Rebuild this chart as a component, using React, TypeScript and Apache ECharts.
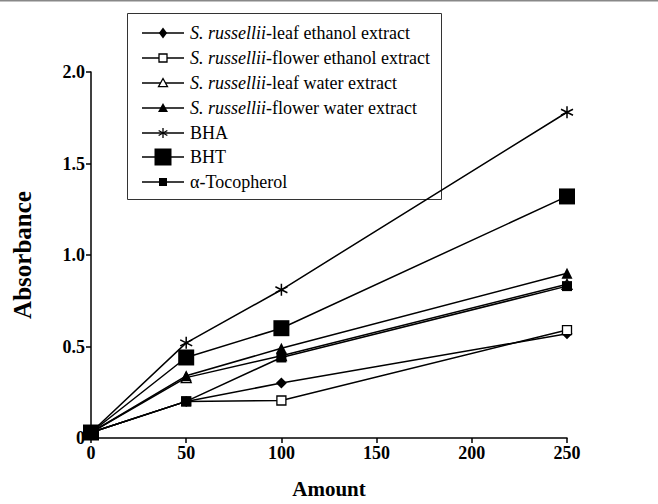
import React, { useEffect, useRef } from "react";
import * as echarts from "echarts";

const amounts = [0, 50, 100, 250];
const leafEthanol = [0.03, 0.2, 0.3, 0.57];
const flowerEthanol = [0.03, 0.2, 0.205, 0.59];
const leafWater = [0.03, 0.33, 0.45, 0.84];
const flowerWater = [0.03, 0.34, 0.49, 0.9];
const bha = [0.03, 0.52, 0.81, 1.78];
const bht = [0.03, 0.44, 0.6, 1.32];
const tocopherol = [0.03, 0.2, 0.44, 0.83];

const xTicks = [0, 50, 100, 150, 200, 250];
const yTicks = [0, 0.5, 1.0, 1.5, 2.0];

const FONT = "'Liberation Serif', 'Times New Roman', serif";
const ASTERISK = "path://M6,0L6,12M0.8,3L11.2,9M0.8,9L11.2,3";

type Kind = "diamond" | "rect" | "triangle" | "asterisk";
type Def = {
  name: string;
  italic: string;
  rest: string;
  values: number[];
  kind: Kind;
  size: number;
  fill: string;
  legendSize: number;
  border?: number;
};

const defs: Def[] = [
  { name: "leafEthanol", italic: "S. russellii", rest: "-leaf ethanol extract", values: leafEthanol, kind: "diamond", size: 11, fill: "#000", legendSize: 11 },
  { name: "flowerEthanol", italic: "S. russellii", rest: "-flower ethanol extract", values: flowerEthanol, kind: "rect", size: 9, fill: "#fff", legendSize: 8, border: 1.3 },
  { name: "leafWater", italic: "S. russellii", rest: "-leaf water extract", values: leafWater, kind: "triangle", size: 10, fill: "#fff", legendSize: 9, border: 1.3 },
  { name: "flowerWater", italic: "S. russellii", rest: "-flower water extract", values: flowerWater, kind: "triangle", size: 11, fill: "#000", legendSize: 10 },
  { name: "BHA", italic: "", rest: "BHA", values: bha, kind: "asterisk", size: 12, fill: "#000", legendSize: 10, border: 1.5 },
  { name: "BHT", italic: "", rest: "BHT", values: bht, kind: "rect", size: 16, fill: "#000", legendSize: 17 },
  { name: "Toc", italic: "", rest: "α-Tocopherol", values: tocopherol, kind: "rect", size: 10, fill: "#000", legendSize: 8 },
];

const legendCenters = [33, 58, 83, 108, 133, 157, 182];

function symbolName(k: Kind) {
  return k === "asterisk" ? ASTERISK : k;
}

function legendIcon(d: Def, cx: number, cy: number): any[] {
  const s = d.legendSize;
  const h = s / 2;
  const stroke = "#000";
  const lw = d.border ?? 0;
  const style = { fill: d.fill, stroke: lw ? stroke : undefined, lineWidth: lw };
  if (d.kind === "rect") {
    return [{ type: "rect", shape: { x: cx - h, y: cy - h, width: s, height: s }, style }];
  }
  if (d.kind === "diamond") {
    return [{ type: "polygon", shape: { points: [[cx, cy - h], [cx + h * 0.75, cy], [cx, cy + h], [cx - h * 0.75, cy]] }, style }];
  }
  if (d.kind === "triangle") {
    return [{ type: "polygon", shape: { points: [[cx, cy - h], [cx + h, cy + h * 0.8], [cx - h, cy + h * 0.8]] }, style }];
  }
  const a = h * 0.87;
  const b = h * 0.5;
  const ls = { stroke, lineWidth: 1.3 };
  return [
    { type: "line", shape: { x1: cx, y1: cy - h, x2: cx, y2: cy + h }, style: ls },
    { type: "line", shape: { x1: cx - a, y1: cy - b, x2: cx + a, y2: cy + b }, style: ls },
    { type: "line", shape: { x1: cx - a, y1: cy + b, x2: cx + a, y2: cy - b }, style: ls },
  ];
}

function measure(text: string, font: string) {
  const c = document.createElement("canvas").getContext("2d");
  if (!c) return text.length * 7;
  c.font = font;
  return c.measureText(text).width;
}

export default function App() {
  const ref = useRef<HTMLDivElement>(null);
  useEffect(() => {
    if (!ref.current) return;
    const chart = echarts.init(ref.current, undefined, { renderer: "svg" });
    const series = defs.map((d) => ({
      name: d.name,
      type: "line",
      data: amounts.map((a, i) => [a, d.values[i]]),
      symbol: symbolName(d.kind),
      symbolSize: d.size,
      showAllSymbol: true,
      lineStyle: { color: "#000", width: 1.5 },
      itemStyle: {
        color: d.fill,
        borderColor: "#000",
        borderWidth: d.border ?? 0,
      },
      emphasis: { disabled: true },
    }));

    const legendGraphics: any[] = [];
    const lineX1 = 142;
    const lineX2 = 184;
    const textX = 190;
    const italicFont = `italic 18px ${FONT}`;
    const normalFont = `18px ${FONT}`;
    defs.forEach((d, i) => {
      const cy = legendCenters[i];
      legendGraphics.push({
        type: "line",
        shape: { x1: lineX1, y1: cy, x2: lineX2, y2: cy },
        style: { stroke: "#000", lineWidth: 1.3 },
        silent: true,
      });
      legendIcon(d, (lineX1 + lineX2) / 2, cy).forEach((g) => legendGraphics.push({ ...g, silent: true }));
      let x = textX;
      if (d.italic) {
        legendGraphics.push({
          type: "text",
          x,
          y: cy,
          style: { text: d.italic, font: italicFont, fill: "#000", verticalAlign: "middle", align: "left" },
          silent: true,
        });
        x += measure(d.italic, italicFont);
      }
      legendGraphics.push({
        type: "text",
        x,
        y: cy,
        style: { text: d.rest, font: normalFont, fill: "#000", verticalAlign: "middle", align: "left" },
        silent: true,
      });
    });

    chart.setOption({
      animation: false,
      backgroundColor: "#fff",
      textStyle: { fontFamily: FONT, fontSize: 15, color: "#000" },
      grid: { left: 91, top: 72, width: 476, height: 372, containLabel: false },
      xAxis: {
        type: "value",
        min: xTicks[0],
        max: xTicks[xTicks.length - 1],
        interval: 50,
        name: "Amount",
        nameLocation: "middle",
        nameGap: 40,
        nameTextStyle: { fontFamily: FONT, fontSize: 21, fontWeight: "bold", color: "#000" },
        axisLine: { lineStyle: { color: "#000", width: 1.5 } },
        axisTick: { length: 5, lineStyle: { color: "#000", width: 1.5 } },
        axisLabel: { fontFamily: FONT, fontSize: 18, fontWeight: "bold", color: "#000", margin: 6 },
        splitLine: { show: false },
      },
      yAxis: {
        type: "value",
        min: yTicks[0],
        max: yTicks[yTicks.length - 1],
        interval: 0.5,
        name: "Absorbance",
        nameLocation: "middle",
        nameGap: 56,
        nameTextStyle: { fontFamily: FONT, fontSize: 25, fontWeight: "bold", color: "#000" },
        axisLine: { lineStyle: { color: "#000", width: 1.5 } },
        axisTick: { length: 5, lineStyle: { color: "#000", width: 1.5 } },
        axisLabel: {
          fontFamily: FONT,
          fontSize: 18,
          fontWeight: "bold",
          color: "#000",
          margin: 6,
          formatter: (v: number) => (v === 0 ? "0" : v.toFixed(1)),
        },
        splitLine: { show: false },
      },
      graphic: [
        { type: "rect", left: 0, top: 0, shape: { width: 658, height: 1.5 }, style: { fill: "#888" }, silent: true },
        {
          type: "rect",
          shape: { x: 127.5, y: 13.5, width: 314, height: 186 },
          style: { fill: "none", stroke: "#333", lineWidth: 1 },
          silent: true,
        },
        ...legendGraphics,
      ],
      series,
    });
    return () => chart.dispose();
  }, []);
  return (
    <div
      ref={ref}
      style={{ position: "absolute", left: 0, top: 0, width: 658, height: 504 }}
    />
  );
}
